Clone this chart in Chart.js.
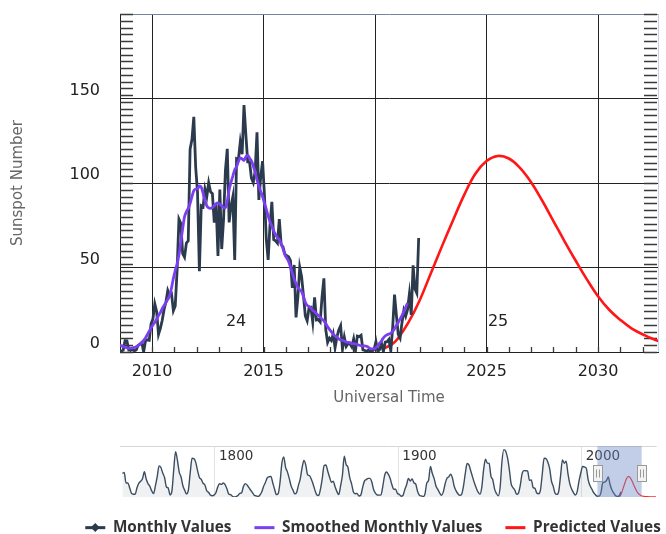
<!DOCTYPE html>
<html>
<head>
<meta charset="utf-8">
<script src="https://cdn.jsdelivr.net/npm/chart.js@4/dist/chart.umd.min.js"></script>
<style>
html,body{margin:0;padding:0;background:#fff;overflow:hidden;width:666px;height:534px;position:relative;}
#main{position:absolute;left:0;top:0;}
#nav{position:absolute;left:0;top:429px;}
</style>
</head>
<body>
<canvas id="main" width="666" height="420"></canvas>
<canvas id="nav" width="746" height="105"></canvas>
<script>
// ---------------- DATA ----------------
const monthlyStart = { year: 2008, month: 6 };
const monthlyValues = [
  4.9, 0.8, 0.5, 1.1, 6.7, 6.6, 1.2,
  1.3, 1.4, 0.7, 1.2, 3.9, 4.7, 5.6, 0.0, 6.7, 7.2, 6.9, 16.6,
  19.6, 28.5, 24.0, 10.4, 13.9, 18.8, 25.2, 29.6, 36.4, 33.6, 34.4, 24.5,
  27.3, 48.3, 78.6, 76.1, 58.2, 56.1, 64.5, 65.8, 120.1, 125.7, 139.1, 109.3,
  94.4, 47.8, 86.6, 85.9, 96.5, 92.0, 100.1, 94.8, 93.7, 76.5, 87.6, 56.8,
  96.1, 60.9, 78.3, 107.3, 120.2, 76.7, 86.2, 91.8, 54.5, 114.4, 113.9, 124.2,
  117.0, 146.1, 128.7, 112.5, 112.5, 102.9, 100.2, 106.9, 130.0, 90.0, 103.6, 112.9,
  93.0, 66.7, 54.5, 75.3, 88.8, 66.5, 65.8, 64.4, 78.6, 63.6, 62.2, 58.0,
  57.0, 56.4, 54.1, 37.9, 51.5, 20.5, 32.4, 50.2, 44.6, 33.4, 21.4, 18.5,
  26.1, 26.4, 17.7, 32.3, 18.9, 19.2, 17.8, 32.6, 43.6, 13.2, 5.7, 8.2,
  6.8, 10.7, 2.5, 8.9, 13.1, 15.6, 1.6, 8.7, 3.3, 4.9, 4.9, 3.1,
  7.7, 0.8, 9.4, 9.1, 9.9, 1.2, 0.9, 0.5, 1.1, 0.4, 0.5, 1.5,
  6.2, 0.2, 1.5, 5.2, 0.2, 5.8, 6.1, 7.5, 0.6, 14.4, 34.0, 21.8,
  10.4, 8.2, 17.2, 24.5, 21.2, 25.0, 34.3, 22.0, 51.3, 37.4, 34.8, 67.5
];
const smoothedStart = { year: 2008, month: 6 };
const smoothedValues = [
  4.7, 4.2, 3.6, 3.3, 2.9, 2.6, 2.2,
  2.3, 2.4, 2.7, 3.1, 3.8, 4.6, 5.6, 6.8, 8.3, 10.3, 12.3, 14.3,
  16.0, 17.6, 19.4, 21.6, 23.4, 25.6, 27.5, 29.4, 31.1, 33.4, 37.9, 43.6,
  48.2, 52.1, 57.5, 65.0, 73.0, 80.0, 83.0, 85.0, 88.0, 92.0, 95.5, 96.4,
  96.5, 98.3, 97.5, 94.0, 89.5, 86.5, 85.3, 85.0, 85.5, 86.5, 87.8, 88.2,
  87.5, 86.5, 85.5, 85.3, 89.2, 96.0, 100.3, 104.1, 107.8, 109.5, 112.7, 114.8,
  114.2, 113.3, 115.5, 116.4, 114.7, 113.1, 110.0, 106.5, 102.0, 98.0, 95.0, 92.0,
  88.0, 84.5, 80.5, 77.0, 74.5, 71.5, 69.5, 67.5, 66.5, 64.0, 61.0, 57.5,
  55.6, 53.6, 50.3, 46.7, 43.2, 40.4, 38.2, 36.8, 35.7, 32.8, 29.4, 27.6,
  27.0, 26.0, 24.6, 23.9, 22.5, 21.6, 20.6, 19.4, 18.5, 16.8, 15.0, 13.4,
  12.0, 10.4, 9.5, 8.9, 7.8, 7.2, 6.9, 6.5, 5.9, 5.7, 5.6, 5.0,
  4.9, 4.8, 4.4, 4.0, 3.7, 3.5, 3.6, 3.4, 2.7, 2.0, 1.8, 1.8,
  2.5, 3.8, 5.2, 6.5, 8.3, 9.5, 10.2, 10.6, 11.2, 12.2, 13.8, 15.8,
  17.5, 19.5, 21.5, 24.0, 26.5, 29.0
];
const predictedYears = [2020.37, 2020.75, 2021.0, 2021.5, 2022.0, 2022.5, 2023.0, 2023.5, 2024.0, 2024.5,
  2025.0, 2025.5, 2026.0, 2026.5, 2027.0, 2027.5, 2028.0, 2028.5, 2029.0, 2029.5,
  2030.0, 2030.5, 2031.0, 2031.5, 2032.0, 2032.5, 2033.0, 2034.0, 2035.0, 2036.0,
  2037.0, 2038.0, 2039.0, 2040.5];
const predictedValues = [1.9, 4.5, 7.5, 17.5, 30.5, 46.5, 62.5, 78.0, 93.0, 105.5,
  113.0, 116.0, 114.5, 109.0, 100.5, 89.5, 77.5, 65.5, 54.0, 43.0,
  33.0, 25.0, 19.0, 14.0, 10.5, 7.5, 5.5, 3.5, 2.5, 1.8,
  1.3, 1.0, 0.8, 0.6];
const yearlyStart = 1749;
const yearlyValues = [
  134.7,139.0,79.5,79.7,51.2,20.3,16.0,17.0,54.0,79.3,90.0,
  104.8,143.2,102.0,75.2,60.7,34.8,19.0,63.0,116.3,176.8,
  168.0,136.0,110.8,58.0,51.0,11.7,33.0,154.2,257.3,209.8,
  141.3,113.5,64.2,38.0,17.0,40.2,138.2,220.0,218.2,196.8,
  149.8,111.0,100.0,78.2,68.3,35.5,26.7,10.7,6.8,11.3,
  24.2,56.7,75.0,71.8,79.2,70.3,46.8,16.8,13.5,4.2,
  0.0,2.3,8.3,20.3,23.2,59.0,76.3,68.3,52.9,38.5,
  24.2,9.2,6.3,2.2,11.4,28.2,59.9,83.0,108.5,115.2,
  117.4,80.8,44.3,13.4,19.5,85.8,192.7,227.3,168.7,143.0,
  105.5,63.3,40.3,18.1,25.1,65.8,102.7,166.3,208.3,182.5,
  126.3,122.0,102.7,74.1,39.0,12.7,8.2,43.4,104.4,178.3,
  182.2,146.6,112.1,83.5,89.2,57.8,30.7,13.9,62.8,123.6,
  232.0,185.3,169.2,110.1,74.5,28.3,18.9,20.7,5.7,10.0,
  53.7,90.5,99.0,106.1,105.8,86.3,42.4,21.8,11.2,10.4,
  11.8,59.5,121.7,142.0,130.0,106.6,69.4,43.8,44.4,20.2,
  15.7,4.6,8.5,40.8,70.1,105.5,90.1,102.8,80.9,73.2,
  30.9,9.5,6.0,2.4,16.1,79.0,95.0,173.6,134.6,105.7,
  62.7,43.5,23.7,9.7,27.9,74.0,106.5,114.7,129.7,108.2,
  59.4,35.1,18.6,9.2,14.6,60.2,132.8,190.6,182.6,148.0,
  113.0,79.2,50.8,27.1,16.1,55.3,154.3,214.7,193.0,190.7,
  118.9,98.3,45.0,20.1,6.6,54.2,200.7,269.3,261.7,225.1,
  159.0,76.4,53.4,39.9,15.0,22.0,66.8,132.9,150.2,149.4,
  148.0,94.4,97.6,54.1,49.2,22.5,18.4,39.3,131.0,220.1,
  218.9,198.9,162.4,91.0,60.5,20.6,14.8,33.9,123.0,211.1,
  191.8,203.3,133.0,76.1,44.9,25.1,11.6,28.9,88.3,136.3,
  173.9,170.4,163.6,99.3,65.3,45.8,24.7,12.6,4.2,4.8,
  24.9,80.8,84.5,94.0,113.3,69.8,39.8,21.7,7.0,3.6,
  8.8,29.6
];
const cycleLabels = ['24', '25'];
const cycleLabelYears = [2013.77, 2025.52];
const cycleLabelValues = [18, 18];
const xTickYears = [2010, 2015, 2020, 2025, 2030];
const yGridValues = [0, 50, 100, 150, 200];
const yTickValues = [0, 50, 100, 150];
const navTickYears = [1800, 1900, 2000];
const viewRange = [2008.565, 2032.69];
const navRange = [1748.2, 2040.9];
const legendLabels = ['Monthly Values', 'Smoothed Monthly Values', 'Predicted Values'];

// ---------------- STYLES ----------------
const COL_MONTHLY = '#2b3a4c';
const COL_SMOOTH = '#7b3ef0';
const COL_PRED = '#ff1616';
const legendColors = [COL_MONTHLY, COL_SMOOTH, COL_PRED];

function monthlySeries(start, values) {
  return values.map((v, i) => ({ x: start.year + (start.month - 1 + i + 0.5) / 12, y: v }));
}
const predictedPoints = predictedYears.map((x, i) => ({ x: x, y: predictedValues[i] }));
const yearlyPoints = yearlyValues.map((v, i) => ({ x: yearlyStart + i + 0.5, y: v }));

// ---------------- MAIN CHART ----------------
const mainDecor = {
  id: 'mainDecor',
  beforeDatasetsDraw(chart) {
    const { ctx, chartArea: a, scales: { x, y } } = chart;
    ctx.save();
    ctx.strokeStyle = '#3a3a3a';
    ctx.lineWidth = 1.3;
    ctx.beginPath();
    for (let yr = Math.ceil(x.min); yr <= Math.floor(x.max); yr++) {
      const px = Math.round(x.getPixelForValue(yr)) + 0.5;
      ctx.moveTo(px, a.bottom);
      ctx.lineTo(px, a.bottom - 5);
    }
    for (let v = 0; v <= y.max; v += 4) {
      const py = Math.round(y.getPixelForValue(v)) + 0.5;
      ctx.moveTo(a.left, py); ctx.lineTo(a.left + 13, py);
      ctx.moveTo(a.right - 14, py); ctx.lineTo(a.right - 1, py);
    }
    ctx.stroke();
    ctx.strokeStyle = '#c3d1ea';
    ctx.lineWidth = 1;
    ctx.beginPath();
    ctx.moveTo(a.right + 0.5, a.top);
    ctx.lineTo(a.right + 0.5, a.bottom);
    ctx.stroke();
    ctx.restore();
  },
  afterDatasetsDraw(chart) {
    const { ctx, scales: { x, y } } = chart;
    ctx.save();
    ctx.font = '16px "DejaVu Sans"';
    ctx.fillStyle = '#222';
    ctx.textAlign = 'center';
    ctx.textBaseline = 'middle';
    cycleLabels.forEach((t, i) => {
      ctx.fillText(t, x.getPixelForValue(cycleLabelYears[i]), y.getPixelForValue(cycleLabelValues[i]));
    });
    ctx.restore();
  }
};

new Chart(document.getElementById('main'), {
  type: 'line',
  data: {
    datasets: [
      { label: legendLabels[0], data: monthlySeries(monthlyStart, monthlyValues), borderColor: COL_MONTHLY,
        borderWidth: 2.8, pointRadius: 0, tension: 0, order: 1 },
      { label: legendLabels[1], data: monthlySeries(smoothedStart, smoothedValues), borderColor: COL_SMOOTH,
        borderWidth: 2.8, pointRadius: 0, cubicInterpolationMode: 'monotone', order: 0 },
      { label: legendLabels[2], data: predictedPoints, borderColor: COL_PRED,
        borderWidth: 2.6, pointRadius: 0, tension: 0.4, order: 2 }
    ]
  },
  options: {
    responsive: false,
    animation: false,
    events: [],
    layout: { padding: { left: 0, top: 14, right: 8, bottom: 0 } },
    plugins: { legend: { display: false }, tooltip: { enabled: false } },
    scales: {
      x: {
        type: 'linear', min: viewRange[0], max: viewRange[1],
        afterBuildTicks: s => { s.ticks = xTickYears.map(v => ({ value: v })); },
        afterFit: s => { s.height = 68; s.paddingLeft = 0; s.paddingRight = 0; },
        grid: { color: '#222', lineWidth: 1, drawTicks: false },
        border: { display: true, color: '#222', width: 1 },
        ticks: { padding: 10, autoSkip: false, maxRotation: 0, color: '#222',
          font: { family: 'DejaVu Sans', size: 16 }, callback: v => String(v) },
        title: { display: true, text: 'Universal Time', color: '#666',
          font: { family: 'DejaVu Sans', size: 15 }, padding: { top: 0, bottom: 13 } }
      },
      y: {
        type: 'linear', min: 0, max: 200,
        afterBuildTicks: s => { s.ticks = yGridValues.map(v => ({ value: v })); },
        afterFit: s => { s.width = 120; s.paddingTop = 0; s.paddingBottom = 0; },
        grid: { color: c => (c.tick && c.tick.value === 200 ? '#7584a0' : '#222'), lineWidth: 1, drawTicks: false },
        border: { display: true, color: '#222', width: 1 },
        ticks: { padding: 20, labelOffset: -8, autoSkip: false, color: '#222',
          font: { family: 'DejaVu Sans', size: 16 },
          callback: v => (yTickValues.includes(v) ? String(v) : '') },
        title: { display: true, text: 'Sunspot Number', color: '#666',
          font: { family: 'DejaVu Sans', size: 15 }, padding: { top: 9, bottom: 0 } }
      }
    }
  },
  plugins: [mainDecor]
});

// ---------------- NAVIGATOR + LEGEND ----------------
const navDecor = {
  id: 'navDecor',
  afterDatasetsDraw(chart) {
    const { ctx, chartArea: a, scales: { x } } = chart;
    ctx.save();
    ctx.strokeStyle = '#d6d6d6';
    ctx.lineWidth = 1;
    ctx.beginPath();
    ctx.moveTo(a.left, a.top + 0.5);
    ctx.lineTo(a.right, a.top + 0.5);
    ctx.stroke();
    ctx.font = '13.5px "DejaVu Sans"';
    ctx.fillStyle = '#333';
    ctx.textAlign = 'left';
    ctx.textBaseline = 'middle';
    navTickYears.forEach(yr => ctx.fillText(String(yr), x.getPixelForValue(yr) + 4, a.top + 10));
    const x0 = x.getPixelForValue(viewRange[0]);
    const x1 = x.getPixelForValue(viewRange[1]);
    ctx.fillStyle = 'rgba(102,133,194,0.4)';
    ctx.fillRect(x0, a.top, x1 - x0, a.bottom - a.top);
    [x0, x1].forEach(hx => {
      const rx = Math.round(hx - 4.5) + 0.5, ry = Math.round(a.top + 19) + 0.5;
      ctx.fillStyle = '#f2f2f2';
      ctx.strokeStyle = '#999';
      ctx.fillRect(rx, ry, 9, 16);
      ctx.strokeRect(rx, ry, 9, 16);
      ctx.beginPath();
      ctx.moveTo(rx + 3, ry + 4); ctx.lineTo(rx + 3, ry + 12);
      ctx.moveTo(rx + 6, ry + 4); ctx.lineTo(rx + 6, ry + 12);
      ctx.stroke();
    });
    ctx.restore();
  },
  afterDraw(chart) {
    const hb = chart.legend && chart.legend.legendHitBoxes && chart.legend.legendHitBoxes[0];
    if (!hb) return;
    const { ctx } = chart;
    const cx = hb.left + 10, cy = hb.top + 7.6, r = 4.5;
    ctx.save();
    ctx.fillStyle = COL_MONTHLY;
    ctx.beginPath();
    ctx.moveTo(cx, cy - r); ctx.lineTo(cx + r, cy); ctx.lineTo(cx, cy + r); ctx.lineTo(cx - r, cy);
    ctx.closePath();
    ctx.fill();
    ctx.restore();
  }
};

new Chart(document.getElementById('nav'), {
  type: 'line',
  data: {
    datasets: [
      { label: 'navMonthly', data: yearlyPoints, borderColor: '#3b4d61', borderWidth: 1.4, pointRadius: 0,
        fill: 'origin', backgroundColor: 'rgba(44,62,80,0.07)', cubicInterpolationMode: 'monotone' },
      { label: 'navPredicted', data: predictedPoints, borderColor: '#ff2a2a', borderWidth: 1.2, pointRadius: 0,
        tension: 0.4 }
    ]
  },
  options: {
    responsive: false,
    animation: false,
    events: [],
    layout: { padding: { left: 0, top: 17, right: 0, bottom: 0 } },
    plugins: {
      tooltip: { enabled: false },
      legend: {
        display: true, position: 'bottom', align: 'center', maxHeight: 37, onClick: null,
        labels: {
          usePointStyle: true, pointStyleWidth: 20, padding: 23, color: '#333',
          font: { family: 'Open Sans', size: 15.3, weight: 'bold' },
          generateLabels: () => legendLabels.map((t, i) => ({
            text: t, fillStyle: legendColors[i], strokeStyle: legendColors[i], lineWidth: 3,
            pointStyle: 'line', hidden: false, datasetIndex: i, fontColor: '#333'
          }))
        }
      }
    },
    scales: {
      x: {
        type: 'linear', min: navRange[0], max: navRange[1],
        afterBuildTicks: s => { s.ticks = navTickYears.map(v => ({ value: v })); },
        afterFit: s => { s.height = 0; },
        grid: { color: '#e3e3e3', lineWidth: 1, drawTicks: false },
        border: { display: false },
        ticks: { display: false }
      },
      y: {
        type: 'linear', position: 'left', min: 0, max: 290,
        afterFit: s => { s.width = 120; },
        grid: { display: false }, border: { display: false }, ticks: { display: false }
      },
      yR: {
        type: 'linear', position: 'right', min: 0, max: 1,
        afterFit: s => { s.width = 89.3; },
        grid: { display: false }, border: { display: false }, ticks: { display: false }
      }
    }
  },
  plugins: [navDecor]
});
</script>
</body>
</html>
